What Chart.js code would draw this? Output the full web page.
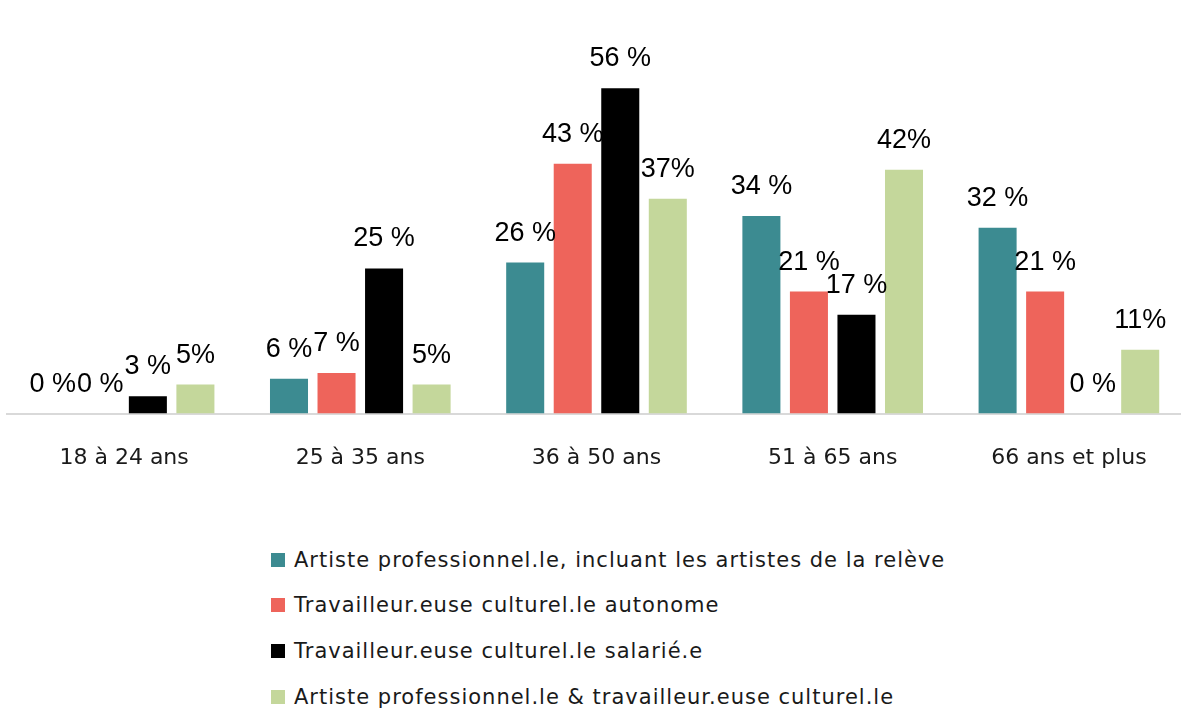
<!DOCTYPE html>
<html>
<head>
<meta charset="utf-8">
<script src="https://cdn.jsdelivr.net/npm/chart.js@4"></script>
<style>
    body { margin: 0; background: #fff; width: 1181px; height: 714px; overflow: hidden; position: relative; }
    #wrap { position: absolute; left: 6px; top: 0; width: 1181px; height: 502px; }
    #legend { position: absolute; left: 271px; top: 537px; font-family: 'DejaVu Sans', sans-serif; font-size: 21px; letter-spacing: 1px; color: #1a1a1a; }
    .leg-item { display: flex; align-items: center; height: 45.6px; }
    .leg-box { width: 14px; height: 14px; margin-right: 9px; }
</style>
</head>
<body>
<div id="wrap"><canvas id="chart"></canvas></div>
<div id="legend"></div>
<script>
const categories = ['18 à 24 ans', '25 à 35 ans', '36 à 50 ans', '51 à 65 ans', '66 ans et plus'];
const seriesNames = [
    'Artiste professionnel.le, incluant les artistes de la relève',
    'Travailleur.euse culturel.le autonome',
    'Travailleur.euse culturel.le salarié.e',
    'Artiste professionnel.le & travailleur.euse culturel.le'
];
const artistes = [0, 6, 26, 34, 32];
const autonomes = [0, 7, 43, 21, 21];
const salaries = [3, 25, 56, 17, 0];
const mixtes = [5, 5, 37, 42, 11];
const colors = ['#3c8b91', '#ee645b', '#000000', '#c4d79b'];
// the last series is written without the space before %
const labelSuffix = [' %', ' %', ' %', '%'];

const valueLabels = {
    id: 'valueLabels',
    afterDatasetsDraw(chart) {
        const ctx = chart.ctx;
        ctx.save();
        ctx.font = '27px "Liberation Sans", Arial, sans-serif';
        ctx.fillStyle = '#000';
        ctx.textAlign = 'center';
        ctx.textBaseline = 'alphabetic';
        chart.data.datasets.forEach((ds, i) => {
            chart.getDatasetMeta(i).data.forEach((bar, j) => {
                ctx.fillText(ds.data[j] + labelSuffix[i], bar.x, bar.y - 22);
            });
        });
        ctx.restore();
    }
};

const allSeries = [artistes, autonomes, salaries, mixtes];

new Chart(document.getElementById('chart'), {
    type: 'bar',
    data: {
        labels: categories,
        datasets: allSeries.map((values, i) => ({
            label: seriesNames[i],
            data: values,
            backgroundColor: colors[i],
            borderWidth: 0,
            barPercentage: 0.8,
            categoryPercentage: 0.805
        }))
    },
    options: {
        responsive: true,
        maintainAspectRatio: false,
        animation: false,
        layout: { padding: { top: 7, left: 0, right: 0, bottom: 0 } },
        plugins: {
            legend: { display: false },
            tooltip: { enabled: false }
        },
        scales: {
            x: {
                grid: { display: false, drawTicks: false },
                border: { color: '#d9d9d9', width: 2 },
                ticks: {
                    color: '#1a1a1a',
                    padding: 31,
                    font: { family: "'DejaVu Sans', sans-serif", size: 22 }
                }
            },
            y: {
                display: false,
                min: 0,
                max: 70
            }
        }
    },
    plugins: [valueLabels]
});

document.getElementById('legend').innerHTML = seriesNames.map((name, i) => `
    <div class="leg-item"><span class="leg-box" style="background:${colors[i]}"></span>${name}</div>
`).join('');
</script>
</body>
</html>
